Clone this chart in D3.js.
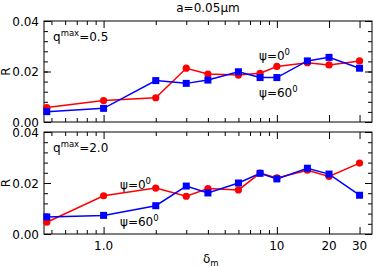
<!DOCTYPE html>
<html>
<head>
<meta charset="utf-8">
<script src="https://cdn.jsdelivr.net/npm/d3@7"></script>
<style>
  body { margin: 0; background: #fff; }
  text { font-family: "DejaVu Sans", sans-serif; fill: #000; }
</style>
</head>
<body>
<div class="chart"></div>
<script>
var svgWidth = 374;
var svgHeight = 267;

// data
var deltaM = [0.47, 1, 2, 3, 4, 6, 8, 10, 15, 20, 30];
var topPsi0  = [0.0057, 0.0085, 0.0096, 0.0213, 0.0190, 0.0186, 0.0193, 0.0220, 0.0235, 0.0226, 0.0242];
var topPsi60 = [0.0041, 0.0054, 0.0164, 0.0153, 0.0166, 0.0199, 0.0176, 0.0176, 0.0242, 0.0256, 0.0213];
var botPsi0  = [0.0046, 0.0150, 0.0180, 0.0148, 0.0178, 0.0173, 0.0239, 0.0220, 0.0250, 0.0226, 0.0278];
var botPsi60 = [0.0067, 0.0073, 0.0111, 0.0188, 0.0161, 0.0200, 0.0238, 0.0216, 0.0258, 0.0235, 0.0152];
var xTickLabels = [1, 10, 20, 30];
var yTickLabels = [0, 0.02, 0.04];

var left = 44, right = 372;

var svg = d3.select(".chart")
  .append("svg")
  .attr("width", svgWidth)
  .attr("height", svgHeight);

var x_scale = d3.scaleLog()
  .domain([0.453, 35.4])
  .range([left, right]);

// minor ticks on the log axis
var xMinor = [];
[0.1, 1, 10].forEach(function (dec) {
  for (var k = 1; k < 10; k++) {
    var v = dec * k;
    if (v >= 0.453 && v <= 35.4 && [1, 10, 20, 30].indexOf(v) < 0) xMinor.push(v);
  }
});
var xMajor = [1, 10, 20, 30];
var yMinor = d3.range(0, 0.0401, 0.004);

function panel(top, bottom, red, blue, label, psiPos) {
  var y_scale = d3.scaleLinear().domain([0, 0.04]).range([bottom, top]);
  var g = svg.append("g");

  // tick marks, pointing inward on all four sides
  g.append("g").attr("transform", `translate(0, ${bottom})`)
    .call(d3.axisBottom(x_scale).tickValues(xMinor).tickSize(-4).tickFormat(""));
  g.append("g").attr("transform", `translate(0, ${bottom})`)
    .call(d3.axisBottom(x_scale).tickValues(xMajor).tickSize(-7).tickFormat(""));
  g.append("g").attr("transform", `translate(0, ${top})`)
    .call(d3.axisTop(x_scale).tickValues(xMinor).tickSize(-4).tickFormat(""));
  g.append("g").attr("transform", `translate(0, ${top})`)
    .call(d3.axisTop(x_scale).tickValues(xMajor).tickSize(-7).tickFormat(""));
  g.append("g").attr("transform", `translate(${left}, 0)`)
    .call(d3.axisLeft(y_scale).tickValues(yMinor).tickSize(-4).tickFormat(""));
  g.append("g").attr("transform", `translate(${left}, 0)`)
    .call(d3.axisLeft(y_scale).tickValues(yTickLabels).tickSize(-7).tickFormat(""));
  g.append("g").attr("transform", `translate(${right}, 0)`)
    .call(d3.axisRight(y_scale).tickValues(yMinor).tickSize(-4).tickFormat(""));
  g.append("g").attr("transform", `translate(${right}, 0)`)
    .call(d3.axisRight(y_scale).tickValues(yTickLabels).tickSize(-7).tickFormat(""));
  g.selectAll(".domain").remove();
  g.selectAll(".tick line").attr("stroke", "#000").attr("stroke-width", 1);

  g.append("rect")
    .attr("x", left).attr("y", top)
    .attr("width", right - left).attr("height", bottom - top)
    .attr("fill", "none").attr("stroke", "#000").attr("stroke-width", 1);

  // y tick labels
  g.selectAll(".ylab").data(yTickLabels).enter().append("text")
    .attr("x", left - 5)
    .attr("y", d => y_scale(d) + 4.5)
    .attr("text-anchor", "end")
    .attr("font-size", "12px")
    .text(d => d3.format(".2f")(d));

  g.append("text")
    .attr("transform", `translate(10, ${(top + bottom) / 2}) rotate(-90)`)
    .attr("text-anchor", "middle")
    .attr("font-size", "12px")
    .text("R");

  var line = d3.line()
    .x((d, i) => x_scale(deltaM[i]))
    .y(d => y_scale(d));

  g.append("path").datum(red)
    .attr("d", line).attr("fill", "none")
    .attr("stroke", "#ff0000").attr("stroke-width", 1.5);
  g.append("path").datum(blue)
    .attr("d", line).attr("fill", "none")
    .attr("stroke", "#0000ff").attr("stroke-width", 1.5);

  g.selectAll(".dot").data(red).enter().append("circle")
    .attr("cx", (d, i) => x_scale(deltaM[i]))
    .attr("cy", d => y_scale(d))
    .attr("r", 3.6)
    .attr("fill", "#ff0000");
  g.selectAll(".sq").data(blue).enter().append("rect")
    .attr("x", (d, i) => x_scale(deltaM[i]) - 3.5)
    .attr("y", d => y_scale(d) - 3.5)
    .attr("width", 7).attr("height", 7)
    .attr("fill", "#0000ff");

  // q^max label
  var q = g.append("text")
    .attr("x", left + 9).attr("y", top + 20)
    .attr("font-size", "12px");
  q.append("tspan").text("q");
  q.append("tspan").attr("dy", -5).attr("font-size", "8.5px").text("max");
  q.append("tspan").attr("dy", 5).text("=" + label);

  // psi labels
  [["ψ=0", psiPos[0]], ["ψ=60", psiPos[1]]].forEach(function (p) {
    var t = g.append("text")
      .attr("x", p[1][0]).attr("y", p[1][1])
      .attr("font-size", "12px");
    t.append("tspan").text(p[0]);
    t.append("tspan").attr("dy", -5).attr("font-size", "8.5px").text("0");
  });
}

panel(132, 234, botPsi0, botPsi60, "2.0", [[120, 189], [120, 226]]);
panel(21, 122, topPsi0, topPsi60, "0.5", [[259, 60], [259, 97]]);

// x tick labels under the lower panel
svg.selectAll(".xlab").data(xTickLabels).enter().append("text")
  .attr("x", d => x_scale(d))
  .attr("y", 250)
  .attr("text-anchor", "middle")
  .attr("font-size", "12px")
  .text(d => d === 1 ? "1.0" : d);

var xt = svg.append("text")
  .attr("x", 203).attr("y", 263)
  .attr("font-size", "12px");
xt.append("tspan").text("δ");
xt.append("tspan").attr("dy", 3).attr("font-size", "8.5px").text("m");

svg.append("text")
  .attr("x", 208).attr("y", 12)
  .attr("text-anchor", "middle")
  .attr("font-size", "12px")
  .text("a=0.05μm");
</script>
</body>
</html>
